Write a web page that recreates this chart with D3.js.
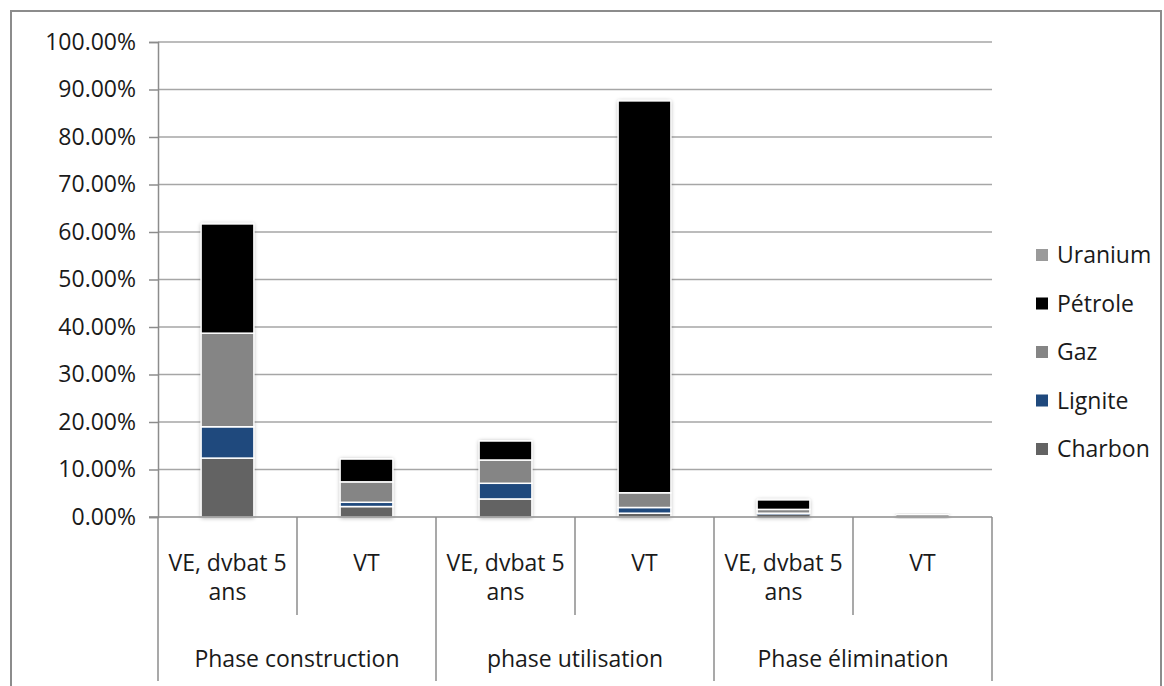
<!DOCTYPE html>
<html><head><meta charset="utf-8">
<script src="https://cdn.jsdelivr.net/npm/d3@7"></script>
<style>body{margin:0;background:#fff;}svg{display:block;font-family:"Open Sans","Noto Sans",sans-serif;}</style>
</head><body><svg id="c" width="1164" height="686"></svg>
<script>
const groups = ["Phase construction","phase utilisation","Phase élimination"];
const subLabels = [["VE, dvbat 5","ans"],["VT"]];
const bars = ["c-VE","c-VT","u-VE","u-VT","e-VE","e-VT"];
const barGroup = [0,0,1,1,2,2];
const barSub = [0,1,0,1,0,1];
const seriesNames = ["Charbon","Lignite","Gaz","Pétrole","Uranium"];
const charbon = [12.4, 2.2, 3.8, 0.8, 0.5, 0.1];
const lignite = [6.6, 0.9, 3.3, 1.2, 0.3, 0];
const gaz     = [19.7, 4.3, 4.9, 3.1, 0.8, 0.3];
const petrole = [23.0, 4.8, 4.0, 82.5, 2.0, 0];
const uranium = [0, 0, 0, 0, 0, 0];
const colors = ["#636363","#1f497d","#858585","#000000","#9a9a9a"];
const yTicks = [0,10,20,30,40,50,60,70,80,90,100];
const FS = 23;

const svg = d3.select("#c");
svg.append("rect").attr("x",11).attr("y",11).attr("width",1150).attr("height",690)
  .attr("fill","none").attr("stroke","#8c8c8c").attr("stroke-width",2);

const defs = svg.append("defs");
const f = defs.append("filter").attr("id","sh").attr("x","-20%").attr("y","-50%").attr("width","140%").attr("height","200%");
f.append("feGaussianBlur").attr("in","SourceAlpha").attr("stdDeviation",2).attr("result","b");
f.append("feOffset").attr("in","b").attr("dx",0).attr("dy",1).attr("result","o");
f.append("feComponentTransfer").attr("in","o").attr("result","o2").append("feFuncA").attr("type","linear").attr("slope",0.35);
const m = f.append("feMerge"); m.append("feMergeNode").attr("in","o2"); m.append("feMergeNode").attr("in","SourceGraphic");

const x0 = 158, x1 = 992, yTop = 42, yBot = 517;
const y = d3.scaleLinear().domain([0,100]).range([yBot,yTop]);
const x = d3.scaleBand().domain(bars).range([x0,x1]).paddingInner(0.62).paddingOuter(0.31);

// gridlines
svg.append("g").selectAll("line").data(yTicks.filter(t=>t>0)).join("line")
  .attr("x1",x0).attr("x2",x1).attr("y1",d=>y(d)).attr("y2",d=>y(d))
  .attr("stroke","#a6a6a6").attr("stroke-width",1.5);

// y axis
const yAxis = d3.axisLeft(y).tickValues(yTicks).tickSize(9).tickPadding(13).tickFormat(d=>d.toFixed(2)+"%");
const ga = svg.append("g").attr("transform",`translate(${x0},0)`).call(yAxis);
ga.select(".domain").attr("stroke","#8c8c8c").attr("stroke-width",1.5);
ga.selectAll(".tick line").attr("stroke","#8c8c8c").attr("stroke-width",1.5);
ga.selectAll(".tick text").attr("font-size",FS).attr("fill","#1a1a1a").attr("font-family","Open Sans");

// stacked bars
const rows = bars.map((b,i)=>({key:b,Charbon:charbon[i],Lignite:lignite[i],Gaz:gaz[i],"Pétrole":petrole[i],Uranium:uranium[i]}));
const stack = d3.stack().keys(seriesNames)(rows);
const gb = svg.append("g");
bars.forEach((b,i)=>{
  const total = stack[stack.length-1][i][1];
  gb.append("rect").attr("x",x(b)).attr("width",x.bandwidth()).attr("y",y(total)-1).attr("height",y(0)-y(total)+1)
    .attr("fill","#fff").attr("filter","url(#sh)");
});
stack.forEach((s,si)=>{
  gb.append("g").selectAll("rect").data(s).join("rect")
    .attr("x",(d,i)=>x(bars[i])).attr("width",x.bandwidth())
    .attr("y",d=>y(d[1])).attr("height",d=>Math.max(0,y(d[0])-y(d[1])))
    .attr("fill",colors[si]).attr("stroke","#fff")
    .attr("stroke-width",d=>(y(d[0])-y(d[1]))<3 ? 0.4 : 1.5);
});

// x axis
svg.append("line").attr("x1",x0-9).attr("x2",x1).attr("y1",yBot).attr("y2",yBot).attr("stroke","#8c8c8c").attr("stroke-width",1.5);
const groupW = (x1-x0)/groups.length;
groups.forEach((g,gi)=>{
  const gx = x0 + gi*groupW;
  svg.append("line").attr("x1",gx).attr("x2",gx).attr("y1",yBot).attr("y2",681).attr("stroke","#8c8c8c").attr("stroke-width",1.5);
  svg.append("text").attr("x",gx+groupW/2).attr("y",667).attr("text-anchor","middle").attr("font-size",FS).attr("fill","#1a1a1a").text(g);
  svg.append("line").attr("x1",gx+groupW/2).attr("x2",gx+groupW/2).attr("y1",yBot).attr("y2",615).attr("stroke","#8c8c8c").attr("stroke-width",1.5);
});
svg.append("line").attr("x1",x1).attr("x2",x1).attr("y1",yBot).attr("y2",681).attr("stroke","#8c8c8c").attr("stroke-width",1.5);
bars.forEach((b,i)=>{
  const cx = x(b)+x.bandwidth()/2;
  subLabels[barSub[i]].forEach((t,li)=>{
    svg.append("text").attr("x",cx).attr("y",571+li*29).attr("text-anchor","middle").attr("font-size",FS).attr("fill","#1a1a1a").text(t);
  });
});

// legend
const legOrder = ["Uranium","Pétrole","Gaz","Lignite","Charbon"];
const lg = svg.append("g");
legOrder.forEach((n,i)=>{
  const ly = 255 + i*48.5;
  lg.append("rect").attr("x",1036).attr("y",ly-6).attr("width",12).attr("height",12).attr("fill",colors[seriesNames.indexOf(n)]);
  lg.append("text").attr("x",1057).attr("y",ly+8).attr("font-size",FS).attr("fill","#1a1a1a").text(n);
});
</script></body></html>
